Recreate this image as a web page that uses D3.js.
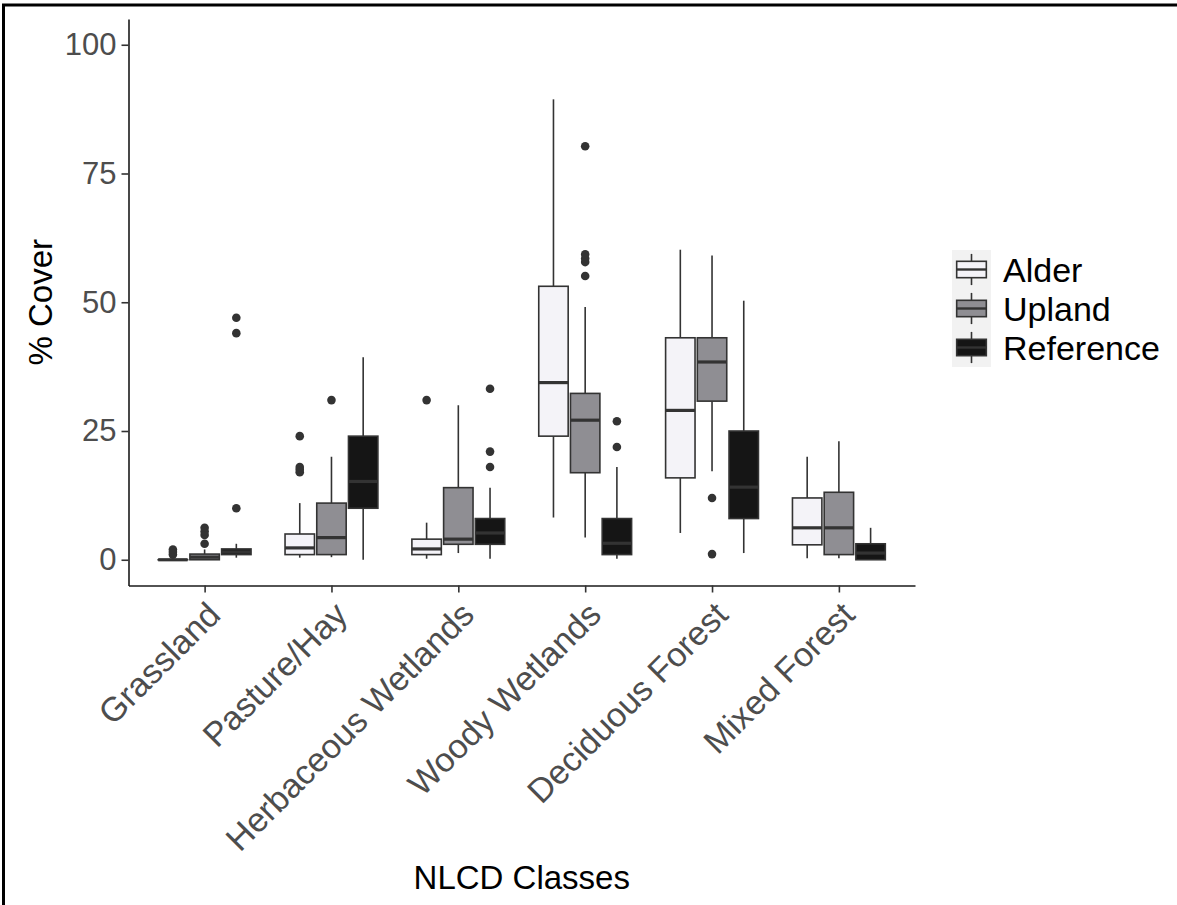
<!DOCTYPE html>
<html>
<head>
<meta charset="utf-8">
<script src="https://cdn.jsdelivr.net/npm/d3@7"></script>
<style>
  body { margin: 0; background: #fff; }
  text { font-family: "Liberation Sans", Arial, sans-serif; }
</style>
</head>
<body>
<div id="BOX_CHART"></div>
<script>
// categories and groups
var classes = ["Grassland", "Pasture/Hay", "Herbaceous Wetlands", "Woody Wetlands", "Deciduous Forest", "Mixed Forest"];
var sites = ["Alder", "Upland", "Reference"];
var yTicks = [0, 25, 50, 75, 100];

// box stats per class: [lower whisker, q1, median, q3, upper whisker]
var alderBox = [[0, 0, 0, 0, 0], [0.4, 1, 2.3, 5, 11], [0.2, 1, 2.1, 4, 7.2], [8.2, 24, 34.4, 53.1, 89.4], [5.2, 15.9, 29, 43.1, 60.2], [0.3, 2.9, 6.2, 12, 20]];
var uplandBox = [[0, 0, 0.5, 1.1, 2], [0.5, 1, 4.3, 11, 20], [1.3, 3, 4, 14, 30], [4.3, 16.9, 27.1, 32.3, 49.1], [17.2, 30.8, 38.4, 43.1, 59.1], [0.3, 1, 6.2, 13.1, 23]];
var referenceBox = [[0.4, 1, 1.5, 2.1, 3.1], [0, 10, 15.2, 24, 39.3], [0.2, 3, 5.2, 8, 14], [0.2, 1, 3.2, 8, 18], [1.3, 8, 14.1, 25, 50.3], [0, 0, 1.3, 3.1, 6.2]];

// outliers per class
var alderOut = [[1, 1.5, 2], [17, 17.5, 18, 24], [31], [], [], []];
var uplandOut = [[3.1, 4.8, 5.5, 6.2], [31], [], [55.1, 57.8, 58.5, 59.3, 80.3], [1.1, 12], []];
var referenceOut = [[10, 44, 47], [], [18, 21, 33.2], [21.9, 26.9], [], []];

var fills = ["#F4F3F8", "#8F8E93", "#151515"];

function makeChart() {
    var W = 1177, H = 905;
    var panel = {left: 128.5, right: 915, top: 19, bottom: 585.5};

    var svg = d3.select("#BOX_CHART")
    .append("svg")
        .attr("width", W)
        .attr("height", H);

    // frame on top and left edges
    svg.append("path")
        .attr("d", "M3.5," + H + "V5H" + W)
        .attr("fill", "none")
        .attr("stroke", "#000")
        .attr("stroke-width", 3);

    var x = d3.scalePoint()
        .domain(classes)
        .range([panel.left, panel.right])
        .padding(0.6);
    var step = x.step();

    var y = d3.scaleLinear()
        .domain([-5, 105])
        .range([panel.bottom, panel.top]);

    var color = d3.scaleOrdinal().domain(sites).range(fills);

    // Y axis
    var yAxis = svg.append("g")
        .attr("transform", "translate(" + panel.left + ",0)")
        .call(d3.axisLeft(y).tickValues(yTicks).tickSize(7).tickPadding(5).tickSizeOuter(0));
    yAxis.select(".domain").attr("stroke", "#1a1a1a").attr("stroke-width", 1.6);
    yAxis.selectAll(".tick line").attr("stroke", "#333").attr("stroke-width", 1.6);
    yAxis.selectAll(".tick text")
        .attr("fill", "#4D4D4D")
        .style("font-size", "31px")
        .style("font-family", "Liberation Sans, Arial, sans-serif");

    // X axis, labels rotated 45 degrees
    var xAxis = svg.append("g")
        .attr("transform", "translate(0," + panel.bottom + ")")
        .call(d3.axisBottom(x).tickSize(7).tickSizeOuter(0));
    xAxis.select(".domain").attr("stroke", "#1a1a1a").attr("stroke-width", 1.6);
    xAxis.selectAll(".tick line").attr("stroke", "#333").attr("stroke-width", 1.6);
    xAxis.selectAll(".tick text").remove();
    xAxis.selectAll(".tick").append("text")
        .attr("transform", "translate(0,14) rotate(-45)")
        .attr("text-anchor", "end")
        .attr("dy", "0.72em")
        .attr("fill", "#4D4D4D")
        .style("font-size", "34px")
        .style("font-family", "Liberation Sans, Arial, sans-serif")
        .text(function(d) { return d; });

    // axis titles
    svg.append("text")
        .attr("transform", "translate(52," + ((panel.top + panel.bottom) / 2) + ") rotate(-90)")
        .attr("text-anchor", "middle")
        .style("font-size", "33px")
        .text("% Cover");
    svg.append("text")
        .attr("x", (panel.left + panel.right) / 2)
        .attr("y", 889)
        .attr("text-anchor", "middle")
        .style("font-size", "33px")
        .text("NLCD Classes");

    // build rows for the boxes
    var boxes = [alderBox, uplandBox, referenceBox];
    var outs = [alderOut, uplandOut, referenceOut];
    var rows = [];
    classes.forEach(function(c, i) {
        sites.forEach(function(s, j) {
            var b = boxes[j][i];
            rows.push({cls: c, site: s, k: j, lo: b[0], q1: b[1], med: b[2], q3: b[3], hi: b[4], out: outs[j][i]});
        });
    });

    var bw = step * 0.232;
    var cx = function(d) { return x(d.cls) + (d.k - 1) * step * 0.25; };

    var g = svg.append("g");
    var box = g.selectAll(".box")
        .data(rows)
        .enter()
        .append("g")
        .attr("class", "box");

    // whiskers
    box.append("line")
        .attr("x1", cx).attr("x2", cx)
        .attr("y1", function(d) { return y(d.hi); })
        .attr("y2", function(d) { return y(d.q3); })
        .attr("stroke", "#333").attr("stroke-width", 1.6);
    box.append("line")
        .attr("x1", cx).attr("x2", cx)
        .attr("y1", function(d) { return y(d.q1); })
        .attr("y2", function(d) { return y(d.lo); })
        .attr("stroke", "#333").attr("stroke-width", 1.6);

    // box body
    box.append("rect")
        .attr("x", function(d) { return cx(d) - bw / 2; })
        .attr("y", function(d) { return y(d.q3); })
        .attr("width", bw)
        .attr("height", function(d) { return Math.max(0.01, y(d.q1) - y(d.q3)); })
        .attr("fill", function(d) { return color(d.site); })
        .attr("stroke", "#333")
        .attr("stroke-width", 1.6);

    // median
    box.append("line")
        .attr("x1", function(d) { return cx(d) - bw / 2; })
        .attr("x2", function(d) { return cx(d) + bw / 2; })
        .attr("y1", function(d) { return y(d.med); })
        .attr("y2", function(d) { return y(d.med); })
        .attr("stroke", "#333").attr("stroke-width", 3.2);

    // outliers
    box.selectAll(".out")
        .data(function(d) { return d.out.map(function(v) { return {v: v, x: cx(d)}; }); })
        .enter()
        .append("circle")
        .attr("class", "out")
        .attr("cx", function(d) { return d.x; })
        .attr("cy", function(d) { return y(d.v); })
        .attr("r", 4.3)
        .attr("fill", "#333");

    // legend
    var key = 39, lx = 952, ly = 250;
    var legend = svg.append("g").attr("transform", "translate(" + lx + "," + ly + ")");
    var item = legend.selectAll(".key")
        .data(sites)
        .enter()
        .append("g")
        .attr("transform", function(d, i) { return "translate(0," + i * key + ")"; });
    item.append("rect")
        .attr("width", key).attr("height", key)
        .attr("fill", "#F2F2F2");
    item.append("line")
        .attr("x1", key / 2).attr("x2", key / 2)
        .attr("y1", key * 0.1).attr("y2", key * 0.9)
        .attr("stroke", "#333").attr("stroke-width", 1.6);
    item.append("rect")
        .attr("x", key * 0.12).attr("y", key * 0.29)
        .attr("width", key * 0.76).attr("height", key * 0.42)
        .attr("fill", function(d) { return color(d); })
        .attr("stroke", "#333").attr("stroke-width", 1.6);
    item.append("line")
        .attr("x1", key * 0.12).attr("x2", key * 0.88)
        .attr("y1", key / 2).attr("y2", key / 2)
        .attr("stroke", "#333").attr("stroke-width", 2.4);
    item.append("text")
        .attr("x", key + 12)
        .attr("y", key / 2)
        .attr("dy", "0.36em")
        .style("font-size", "34px")
        .text(function(d) { return d; });
}

makeChart();
</script>
</body>
</html>
